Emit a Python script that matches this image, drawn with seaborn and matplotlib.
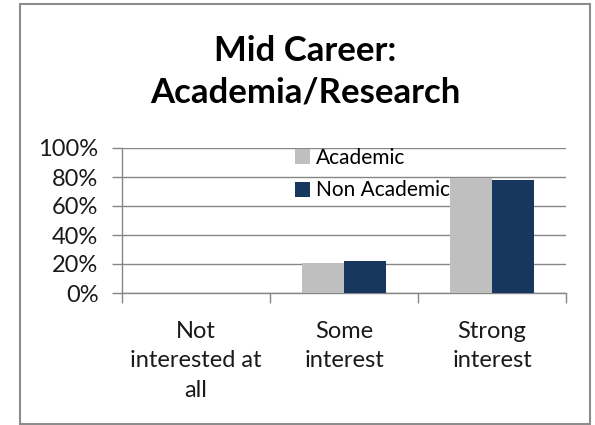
import matplotlib
matplotlib.use("Agg")
import matplotlib.pyplot as plt
from matplotlib.patches import Rectangle
from matplotlib.ticker import MultipleLocator, FuncFormatter
import seaborn as sns
import pandas as pd

categories = ["Not\ninterested at\nall", "Some\ninterest", "Strong\ninterest"]
series = ["Academic", "Non Academic"]
academic = [0, 21, 79]
non_academic = [0, 22, 78]
colors = ["#BFBFBF", "#17375E"]
title = "Mid Career:\nAcademia/Research"

df = pd.DataFrame({
    "category": categories * 2,
    "series": [series[0]] * 3 + [series[1]] * 3,
    "value": academic + non_academic,
})

sns.set_theme(style="white")
plt.rcParams["font.family"] = ["Lato", "DejaVu Sans"]

fig = plt.figure(figsize=(5.95, 4.25), dpi=100)
ax = fig.add_axes([122 / 595, 1 - 293 / 425, 444 / 595, 145 / 425])

sns.barplot(data=df, x="category", y="value", hue="series", order=categories,
            hue_order=series, palette=colors, width=0.57, ax=ax,
            saturation=1, zorder=3, edgecolor="none")

ax.set_ylim(0, 100)
ax.set_xlim(-0.5, 2.5)
ax.yaxis.set_major_locator(MultipleLocator(20))
ax.yaxis.set_major_formatter(FuncFormatter(lambda v, p: f"{int(v)}%"))
ax.grid(axis="y", color="#868686", lw=1, zorder=0)
ax.set_axisbelow(True)
for s in ["top", "right"]:
    ax.spines[s].set_visible(False)
for s in ["left", "bottom"]:
    ax.spines[s].set_color("#868686")
    ax.spines[s].set_linewidth(1)
ax.set_xlabel("")
ax.set_ylabel("")

ax.tick_params(axis="y", which="major", length=7, width=1, color="#868686",
               labelsize=17, pad=10, left=True)
ax.set_xticks([-0.5, 0.5, 1.5, 2.5], minor=True)
ax.tick_params(axis="x", which="minor", length=7, width=1, color="#868686", bottom=True)
ax.tick_params(axis="x", which="major", length=0, labelsize=17, pad=20)
for lbl in ax.get_xticklabels():
    lbl.set_linespacing(1.5)
    lbl.set_color("#1a1a1a")
for lbl in ax.get_yticklabels():
    lbl.set_color("#1a1a1a")

leg = ax.legend(loc="upper left", bbox_to_anchor=(0.39, 1.0), frameon=False,
                fontsize=15, handlelength=0.7, handleheight=0.7,
                handletextpad=0.3, labelspacing=0.6, borderpad=0, borderaxespad=0)
leg.set_zorder(1)
for t in leg.get_texts():
    t.set_color("#000000")

fig.text(305 / 595, 1 - 71.5 / 425, title, ha="center", va="center",
         fontsize=25, fontweight="bold", linespacing=1.38, color="#000000")

fig.patches.append(Rectangle((20 / 595, 1 / 425), 570 / 595, 420 / 425,
                             transform=fig.transFigure, fill=False,
                             edgecolor="#8C8C8C", lw=1.5))

fig.savefig("out.png", dpi=100)
